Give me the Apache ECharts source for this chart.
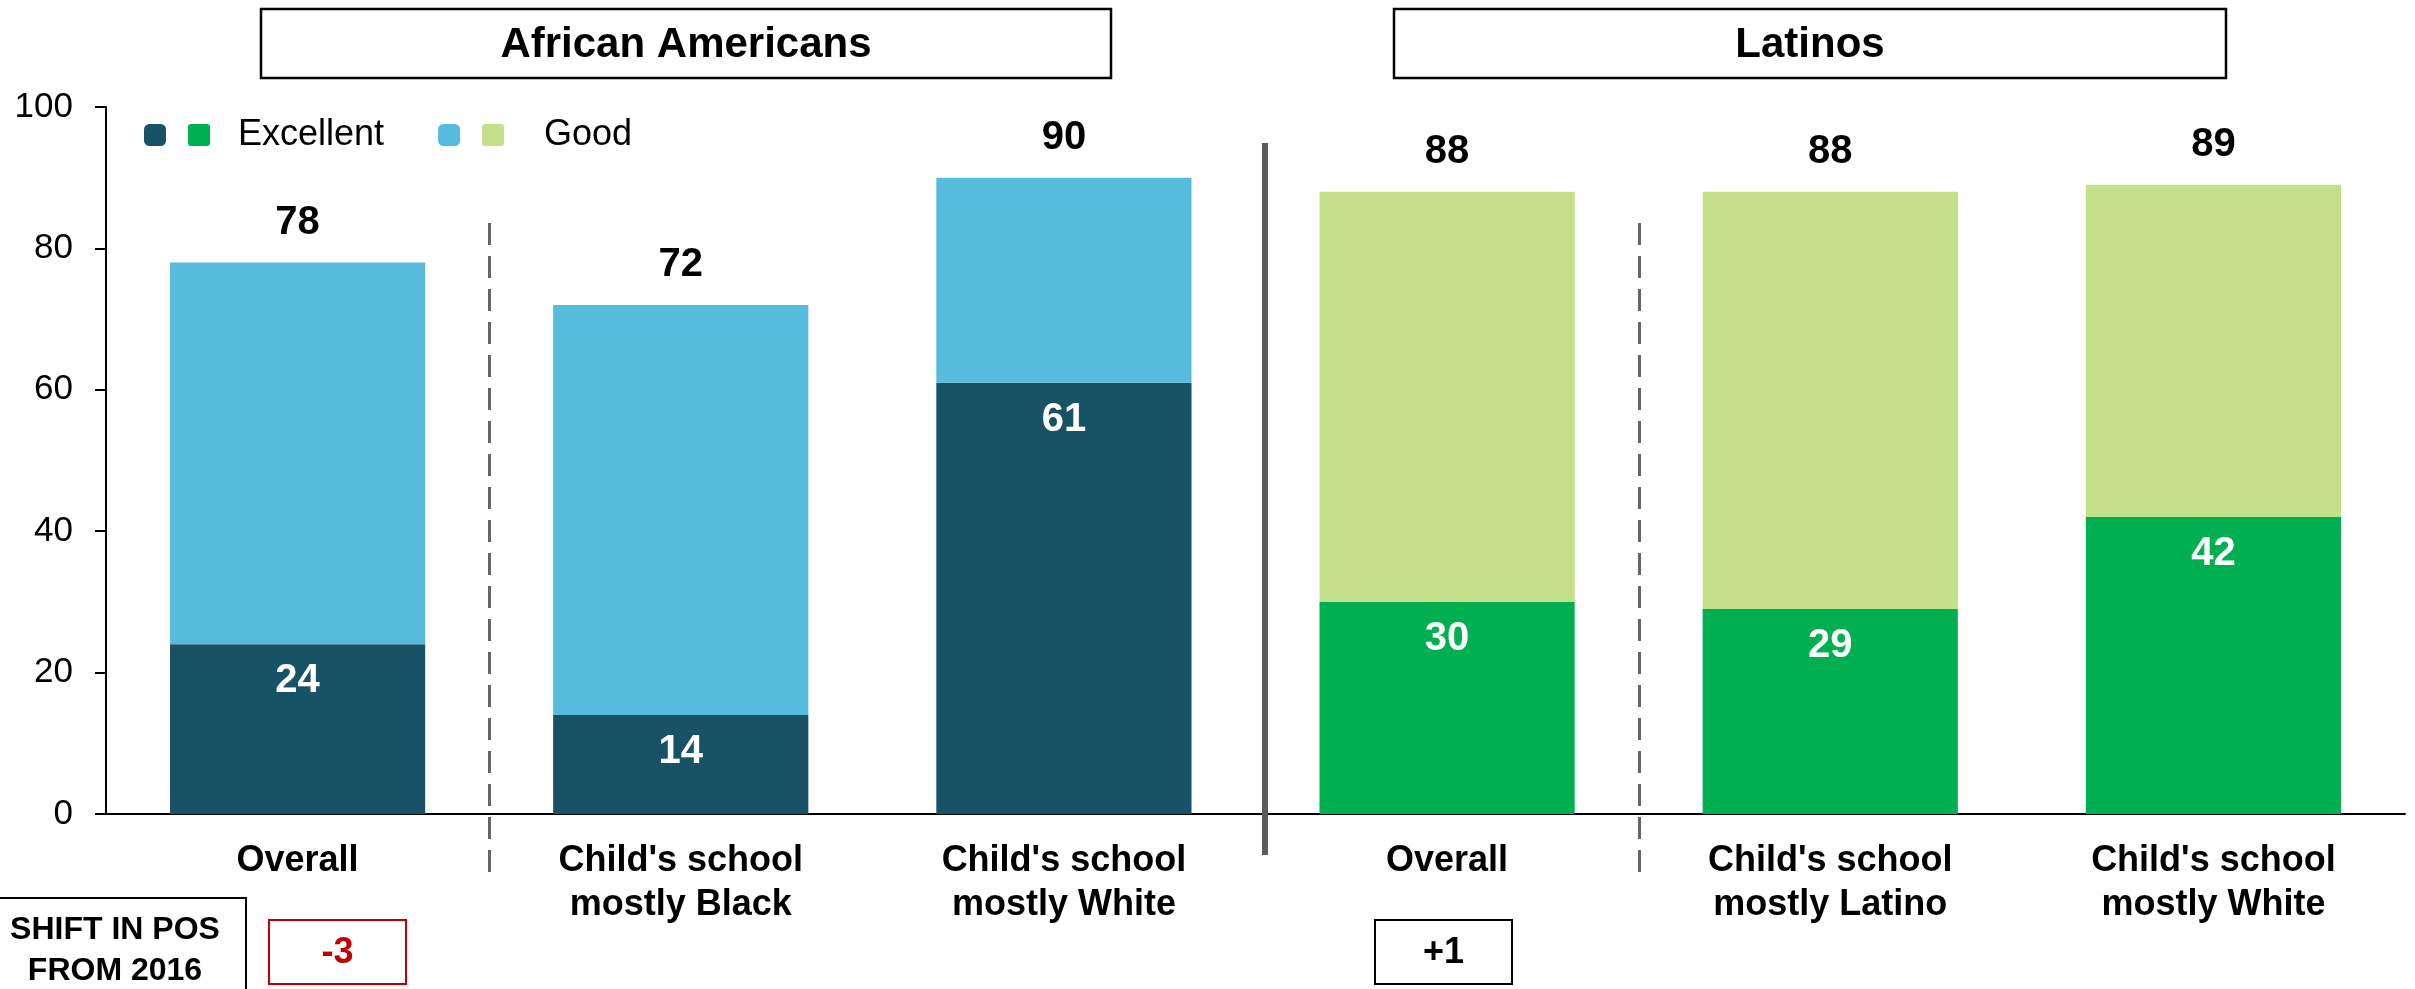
<!DOCTYPE html>
<html>
<head>
<meta charset="utf-8">
<title>School ratings by parents</title>
<script src="https://cdn.jsdelivr.net/npm/echarts@6/dist/echarts.min.js"></script>
<style>
  html, body { margin: 0; padding: 0; background: #fff; }
  #chart { width: 2415px; height: 989px; }
</style>
</head>
<body>
<div id="chart"></div>
<script>
// Categories along the x axis (two groups of three)
const categories = [
  'Overall',
  "Child's school\nmostly Black",
  "Child's school\nmostly White",
  'Overall',
  "Child's school\nmostly Latino",
  "Child's school\nmostly White"
];
// Group each category belongs to: 0 = African Americans, 1 = Latinos
const groupIndex = [0, 0, 0, 1, 1, 1];
const groupNames = ['African Americans', 'Latinos'];

// Share rating their child's school excellent / good (%)
const excellentValues = [24, 14, 61, 30, 29, 42];
const goodValues = [54, 58, 29, 58, 59, 47];
// Combined excellent + good shown above each bar
const totalLabels = [78, 72, 90, 88, 88, 89];

// Shift in positive rating since 2016 (shown for each group's overall bar)
const shiftLabels = ['-3', '+1'];

// Y axis ticks
const yTicks = [0, 20, 40, 60, 80, 100];

const excellentColors = ['#185266', '#00b050'];
const goodColors = ['#57bbdd', '#c4e08a'];
const FONT = '"Liberation Sans", Arial, Helvetica, sans-serif';

const chart = echarts.init(document.getElementById('chart'), null, { renderer: 'canvas' });

const option = {
  animation: false,
  backgroundColor: '#ffffff',
  textStyle: { fontFamily: FONT },
  grid: { left: 106, right: 10, top: 107, bottom: 175, containLabel: false },
  legend: {
    left: 139,
    top: 112,
    itemWidth: 22,
    itemHeight: 22,
    itemGap: 54,
    icon: 'roundRect',
    selectedMode: false,
    textStyle: {
      fontFamily: FONT,
      fontSize: 36,
      color: '#000',
      rich: {
        sp: { width: 17 },
        spE: { width: 28 },
        spG: { width: 40 },
        sqE: { width: 22, height: 22, backgroundColor: excellentColors[1], borderRadius: 3 },
        sqG: { width: 22, height: 22, backgroundColor: goodColors[1], borderRadius: 3 }
      }
    },
    data: [
      { name: 'Excellent', itemStyle: { color: excellentColors[0] } },
      { name: 'Good', itemStyle: { color: goodColors[0] } }
    ],
    formatter: function (name) {
      return name === 'Excellent'
        ? '{sp| }{sqE| }{spE| }' + name
        : '{sp| }{sqG| }{spG| }' + name;
    }
  },
  xAxis: {
    type: 'category',
    data: categories,
    axisLine: { show: true, lineStyle: { color: '#000', width: 2 } },
    axisTick: { show: false },
    axisLabel: {
      interval: 0,
      margin: 25,
      color: '#000',
      fontFamily: FONT,
      fontSize: 36,
      fontWeight: 'bold',
      lineHeight: 44
    }
  },
  yAxis: {
    type: 'value',
    min: yTicks[0],
    max: yTicks[yTicks.length - 1],
    interval: yTicks[1] - yTicks[0],
    axisLine: { show: true, lineStyle: { color: '#000', width: 2 } },
    axisTick: { show: true, inside: false, length: 11, lineStyle: { color: '#000', width: 2 } },
    splitLine: { show: false },
    axisLabel: { margin: 33, color: '#000', fontFamily: FONT, fontSize: 35 }
  },
  series: [
    {
      name: 'Excellent',
      type: 'bar',
      stack: 'rating',
      barWidth: '66.6%',
      itemStyle: { color: excellentColors[0] },
      data: excellentValues.map((v, i) => ({
        value: v,
        itemStyle: { color: excellentColors[groupIndex[i]] }
      })),
      label: {
        show: true,
        position: 'insideTop',
        distance: 17,
        color: '#fff',
        fontFamily: FONT,
        fontSize: 40,
        fontWeight: 'bold'
      }
    },
    {
      name: 'Good',
      type: 'bar',
      stack: 'rating',
      itemStyle: { color: goodColors[0] },
      data: goodValues.map((v, i) => ({
        value: v,
        itemStyle: { color: goodColors[groupIndex[i]] }
      })),
      label: {
        show: true,
        position: 'top',
        distance: 20,
        color: '#000',
        fontFamily: FONT,
        fontSize: 40,
        fontWeight: 'bold',
        formatter: (p) => String(totalLabels[p.dataIndex])
      }
    }
  ]
};

chart.setOption(option);

// Separators and annotations placed from the category axis positions
const xAt = (i) => chart.convertToPixel({ xAxisIndex: 0 }, i);
const boundary = (i) => (xAt(i) + xAt(i + 1)) / 2;

const graphics = [];

// Dashed dividers inside each group
[0, 3].forEach((i) => {
  const x = Math.round(boundary(i)) + 0.5;
  graphics.push({
    type: 'line',
    shape: { x1: x, y1: 223, x2: x, y2: 881 },
    style: { stroke: '#666666', lineWidth: 3, lineDash: [22, 11] },
    z: 10
  });
});

// Solid divider between the two groups
const gx = Math.round(boundary(2)) + 9;
graphics.push({
  type: 'line',
  shape: { x1: gx, y1: 143, x2: gx, y2: 855 },
  style: { stroke: '#5a5a5a', lineWidth: 6 },
  z: 10
});

// Group header boxes
const headerBoxes = [
  { x: 261, w: 850 },
  { x: 1394, w: 832 }
];
headerBoxes.forEach((b, g) => {
  graphics.push({
    type: 'rect',
    shape: { x: b.x, y: 9, width: b.w, height: 69 },
    style: { fill: '#fff', stroke: '#000', lineWidth: 2.5 },
    z: 10
  });
  graphics.push({
    type: 'text',
    x: b.x + b.w / 2,
    y: 45,
    style: {
      text: groupNames[g],
      fill: '#000',
      font: 'bold 42px ' + FONT,
      align: 'center',
      verticalAlign: 'middle'
    },
    z: 11
  });
});

// "Shift in positive rating" caption box
graphics.push({
  type: 'rect',
  shape: { x: -3, y: 898, width: 249, height: 100 },
  style: { fill: '#fff', stroke: '#000', lineWidth: 2 },
  z: 10
});
graphics.push({
  type: 'text',
  x: 115,
  y: 951,
  style: {
    text: 'SHIFT IN POS\nFROM 2016',
    fill: '#000',
    font: 'bold 32px ' + FONT,
    lineHeight: 41,
    align: 'center',
    verticalAlign: 'middle'
  },
  z: 11
});

// Shift value boxes
const shiftBoxes = [
  { x: 269, color: '#c00000', textColor: '#c00000' },
  { x: 1375, color: '#000000', textColor: '#000000' }
];
shiftBoxes.forEach((b, k) => {
  graphics.push({
    type: 'rect',
    shape: { x: b.x, y: 920, width: 137, height: 64 },
    style: { fill: '#fff', stroke: b.color, lineWidth: 2 },
    z: 10
  });
  graphics.push({
    type: 'text',
    x: b.x + 68.5,
    y: 953,
    style: {
      text: shiftLabels[k],
      fill: b.textColor,
      font: 'bold 36px ' + FONT,
      align: 'center',
      verticalAlign: 'middle'
    },
    z: 11
  });
});

chart.setOption({ graphic: graphics });
</script>
</body>
</html>
